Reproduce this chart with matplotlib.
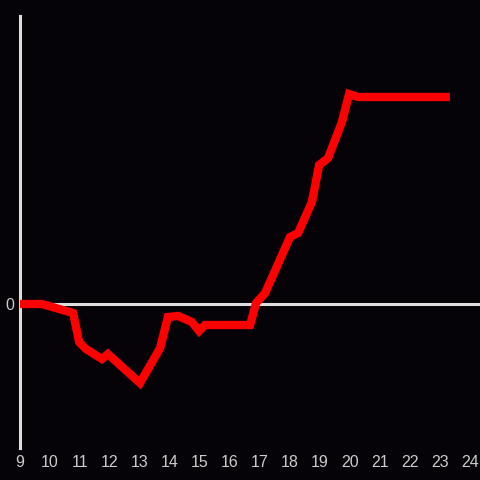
import matplotlib
matplotlib.use("Agg")
import matplotlib.pyplot as plt

hours = [9.0, 9.73, 10.77, 10.97, 11.2, 11.73, 11.93, 13.0, 13.67, 13.93, 14.27,
         14.73, 14.97, 15.17, 16.67, 16.87, 17.17, 18.0, 18.27, 18.73, 18.97,
         19.27, 19.73, 19.97, 20.27, 23.33]
values = [0, 0, -0.9, -3.8, -4.5, -5.5, -5.0, -7.9, -4.4, -1.3, -1.2,
          -1.8, -2.7, -2.1, -2.1, 0.1, 1.1, 6.7, 7.1, 10.2, 13.9,
          14.6, 18.2, 21.0, 20.7, 20.7]
xticks = list(range(9, 25))
yticks = [0]

bg = "#050307"
fig = plt.figure(figsize=(4.8, 4.8), dpi=100, facecolor=bg)
ax = fig.add_axes([20/480, 32/480, 460/480, 432/480], facecolor=bg)
ax.set_xlim(9, 9 + 460/30)
ax.set_ylim(-14.4, 28.8)

ax.axhline(0, color="#dedede", lw=2.2, zorder=1)
ax.plot(hours, values, color="#ff0000", lw=6, solid_capstyle="butt",
        solid_joinstyle="miter", zorder=3)

for s in ["top", "right", "bottom"]:
    ax.spines[s].set_visible(False)
ax.spines["left"].set_color("#dedede")
ax.spines["left"].set_linewidth(2.2)

ax.set_xticks(xticks)
ax.set_xticklabels([str(t) for t in xticks])
ax.set_yticks(yticks)
ax.set_yticklabels(["0"])
ax.tick_params(length=0, colors="#cccccc", labelsize=11.5)
ax.tick_params(axis="x", pad=5)
ax.tick_params(axis="y", pad=4)
for lbl in ax.get_xticklabels() + ax.get_yticklabels():
    lbl.set_family(["Liberation Sans", "DejaVu Sans"])

fig.savefig("out.png", dpi=100, facecolor=bg)
